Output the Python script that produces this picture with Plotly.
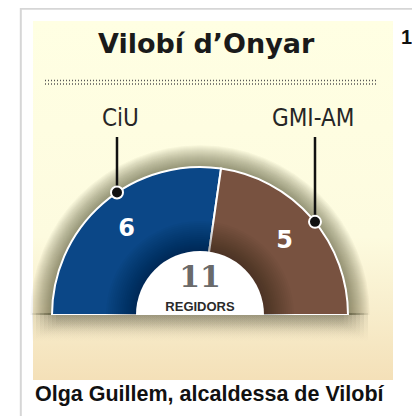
import math
import plotly.graph_objects as go

# ---------------- data ----------------
parties = ["CiU", "GMI-AM"]
seats = [6, 5]
party_colors = ["#0b4787", "#785240"]
title_text = "Vilobí d’Onyar"
total_label = "REGIDORS"
caption_text = "Olga Guillem, alcaldessa de Vilobí"
page_number = "1"

# ---------------- geometry (screen px; page body has an 8px margin) ----------------
OFF = 8
W, H = 420 - OFF, 416 - OFF
CX, CY = 200, 315
R_OUT, R_IN = 148, 64
R_GLOW = 170
label_x = [117, 315]
COND = "Liberation Sans Narrow, DejaVu Sans Condensed, Roboto Condensed, sans-serif"

total = sum(seats)
spans = [180.0 * s / total for s in seats]
starts = [sum(spans[:i]) for i in range(len(spans))]
mids = [st + sp / 2 for st, sp in zip(starts, spans)]

fig = go.Figure()

# panel background with vertical gradient
fig.add_trace(go.Scatter(
    x=[33, 393, 393, 33, 33], y=[21, 21, 380, 380, 21], mode="lines",
    fill="toself", line=dict(width=0),
    fillgradient=dict(type="vertical", start=21, stop=380,
                      colorscale=[[0, "#ffffe3"], [0.6, "#fdfbdf"], [0.8, "#f8eecd"], [1, "#f4e0b8"]]),
    hoverinfo="skip", showlegend=False))

# bottom shadow under the donut (soft stacked layers)
for k in range(7):
    x0, x1 = CX - R_OUT + 4 - 4 * k, CX + R_OUT - 4 + 4 * k
    y0, y1 = CY - 2, CY + 12 + 2.5 * k
    fig.add_trace(go.Scatter(
        x=[x0, x1, x1, x0, x0], y=[y0, y0, y1, y1, y0], mode="lines",
        fill="toself", line=dict(width=0),
        fillgradient=dict(type="vertical", start=y0, stop=y1,
                          colorscale=[[0, "rgba(60,58,40,0.10)"], [1, "rgba(60,58,40,0)"]]),
        hoverinfo="skip", showlegend=False))

# glow around the arc
glow_r = [R_OUT + 1 + k for k in range(R_GLOW - R_OUT)][::-1]
fig.add_trace(go.Barpolar(
    r=glow_r, theta=[90] * len(glow_r), width=[180] * len(glow_r),
    marker=dict(color="rgba(60,58,40,0.032)", line=dict(width=0)),
    hoverinfo="skip", showlegend=False))

# party sectors
fig.add_trace(go.Barpolar(
    r=[R_OUT] * len(seats), theta=mids, width=spans,
    marker=dict(color=party_colors, line=dict(color="white", width=2)),
    hovertext=parties, showlegend=False))

# inner shading of the ring
shade_r = [R_IN + 2 * k for k in range(1, 16)][::-1]
fig.add_trace(go.Barpolar(
    r=shade_r, theta=[90] * len(shade_r), width=[180] * len(shade_r),
    marker=dict(color="rgba(0,0,0,0.025)", line=dict(width=0)),
    hoverinfo="skip", showlegend=False))

# white centre
fig.add_trace(go.Barpolar(
    r=[R_IN], theta=[90], width=[180],
    marker=dict(color="white", line=dict(width=0)),
    hoverinfo="skip", showlegend=False))

# seat numbers
fig.add_trace(go.Scatterpolar(
    r=[112] * len(seats), theta=mids, mode="text", text=[str(s) for s in seats],
    textfont=dict(color="white", size=24, family="DejaVu Sans", weight="bold"),
    hoverinfo="skip", showlegend=False))

fig.add_trace(go.Scatterpolar(
    r=[36], theta=[90], mode="text", text=[str(total)],
    textfont=dict(color="#6a6a6a", size=30, family="DejaVu Serif", weight="bold"),
    hoverinfo="skip", showlegend=False))
fig.add_trace(go.Scatterpolar(
    r=[7], theta=[90], mode="text", text=[total_label],
    textfont=dict(color="#2a2a2a", size=13, family="Liberation Sans, Arial", weight="bold"),
    hoverinfo="skip", showlegend=False))

shapes = [
    dict(type="line", x0=20, x1=420, y0=8.8, y1=8.8, line=dict(color="#d6d6d6", width=2)),
    dict(type="line", x0=20.8, x1=20.8, y0=8, y1=416, line=dict(color="#d6d6d6", width=2)),
    dict(type="line", x0=45, x1=376, y0=80.5, y1=80.5, line=dict(color="#555", width=1.4, dash="1px,2px")),
    dict(type="line", x0=45, x1=376, y0=84, y1=84, line=dict(color="#555", width=1.4, dash="1px,2px")),
]
for lx in label_x:
    dy = math.sqrt(R_OUT ** 2 - (lx - CX) ** 2)
    dot_y = CY - dy
    shapes.append(dict(type="line", x0=lx, x1=lx, y0=137, y1=dot_y, layer="above",
                       line=dict(color="#111", width=2.5)))
    shapes.append(dict(type="circle", x0=lx - 6, x1=lx + 6, y0=dot_y - 6, y1=dot_y + 6, layer="above",
                       fillcolor="#111", line=dict(color="white", width=2)))
for s in shapes:
    s.setdefault("xref", "x")
    s.setdefault("yref", "y")

annotations = [
    dict(x=206, y=43, text=f"<b>{title_text}</b>", showarrow=False,
         font=dict(family="DejaVu Sans", size=27, color="#1a1a1a")),
    dict(x=120, y=118, text=parties[0], showarrow=False,
         font=dict(family=COND, size=24, color="#262626")),
    dict(x=313, y=118, text=parties[1], showarrow=False,
         font=dict(family=COND, size=24, color="#262626")),
    dict(x=406.5, y=36.5, text=f"<b>{page_number}</b>", showarrow=False,
         font=dict(family="Liberation Sans, Arial", size=20, color="#111")),
    dict(x=33, y=394, text=f"<b>{caption_text}</b>", showarrow=False, xanchor="left",
         font=dict(family="Liberation Sans, Arial", size=21.5, color="#111")),
]
for a in annotations:
    a["xref"] = "x"
    a["yref"] = "y"

fig.update_layout(
    width=W, height=H, margin=dict(l=0, r=0, t=0, b=0),
    paper_bgcolor="white", plot_bgcolor="white", showlegend=False,
    xaxis=dict(range=[OFF, 420], visible=False, fixedrange=True, domain=[0, 1]),
    yaxis=dict(range=[416, OFF], visible=False, fixedrange=True, domain=[0, 1]),
    polar=dict(
        domain=dict(x=[(CX - R_GLOW - OFF) / W, (CX + R_GLOW - OFF) / W],
                    y=[(416 - CY) / H, (416 - CY + R_GLOW) / H]),
        sector=[0, 180], hole=0, bgcolor="rgba(0,0,0,0)", barmode="overlay",
        angularaxis=dict(visible=False, rotation=180, direction="clockwise"),
        radialaxis=dict(visible=False, range=[0, R_GLOW]),
    ),
    shapes=shapes, annotations=annotations,
)

fig.write_html("out.html")
